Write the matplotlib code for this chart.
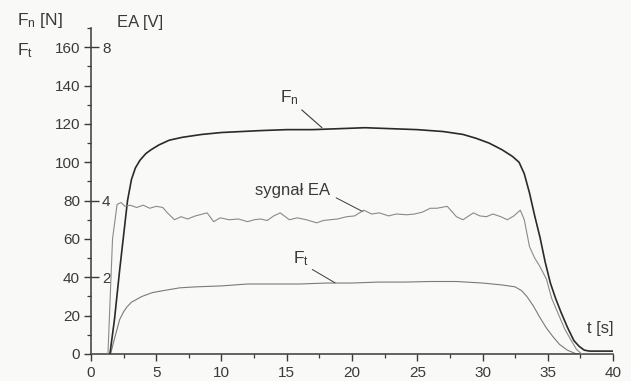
import matplotlib
matplotlib.use("Agg")
import matplotlib.pyplot as plt
from matplotlib.ticker import MultipleLocator, FixedLocator

plt.rcParams['font.family'] = ['Liberation Sans', 'DejaVu Sans']
plt.rcParams['mathtext.fontset'] = 'custom'
plt.rcParams['mathtext.rm'] = 'Liberation Sans'
plt.rcParams['mathtext.it'] = 'Liberation Sans:italic'

# ---- data ----
t_fn = [0, 1.45, 1.8, 2.2, 2.5, 2.8, 3.1, 3.4, 3.75, 4.2, 4.6, 5.2, 6, 7, 8.5, 10, 11.5, 13, 15, 17,
        19, 21, 23, 25, 27, 28.5, 29.5, 30.5, 31.5, 32.3, 32.8, 33.2, 33.6, 34.0, 34.4, 34.8, 35.2,
        35.6, 36.0, 36.5, 37.0, 37.4, 37.8, 38.2, 40]
fn = [0, 0, 18, 44, 62, 80, 91, 97, 101, 104.5, 106.5, 109, 111.5, 113, 114.5, 115.5, 116, 116.5,
      117, 117, 117.5, 118, 117.5, 117, 116, 114.5, 112.5, 110, 106.5, 103, 100, 94, 84, 72, 61,
      48, 37, 29, 22, 14, 7, 4, 2, 1.5, 1.5]

t_ft = [0, 1.5, 1.8, 2.2, 2.5, 2.75, 3.1, 3.5, 3.9, 4.7, 5.5, 6.8, 8, 10, 12, 14, 16, 18, 20, 22,
        24, 26, 28, 30, 31.5, 32.5, 33.0, 33.4, 33.9, 34.4, 34.9, 35.4, 35.9, 36.5, 37.2, 40]
ft = [0, 0, 8, 18, 22, 24.5, 27, 28.5, 30, 32, 33, 34.5, 35, 35.5, 36.5, 36.5, 36.5, 37, 37, 37.5,
      37.5, 37.8, 37.8, 37, 36, 35, 33, 30, 25, 19, 13.5, 9, 5, 2, 0, 0]

t_ea = [0, 1.3, 1.65, 2.0, 2.3, 2.6, 3.0, 3.5, 4.0, 4.5, 5.0, 5.5, 5.8, 6.1, 6.4, 6.9, 7.4, 8.0,
        8.9, 9.4, 9.9, 10.6, 11.3, 12.0, 12.5, 13.0, 13.5, 14.0, 14.5, 15.2, 15.8, 16.5, 17.3,
        17.8, 18.3, 18.9, 19.6, 20.2, 20.9, 21.5, 22.1, 22.8, 23.4, 24.2, 24.8, 25.4, 26.0, 26.5,
        27.3, 28.0, 28.5, 29.3, 29.8, 30.3, 30.8, 31.4, 31.9, 32.4, 32.9, 33.2, 33.6, 34.0, 34.4,
        34.9, 35.3, 35.8, 36.3, 36.8, 37.2, 37.6, 40]
ea = [0, 0, 3.0, 3.9, 3.95, 3.85, 3.88, 3.82, 3.88, 3.8, 3.85, 3.82, 3.7, 3.6, 3.5, 3.58, 3.52,
      3.6, 3.68, 3.45, 3.55, 3.5, 3.52, 3.45, 3.5, 3.52, 3.48, 3.6, 3.68, 3.5, 3.55, 3.5, 3.42,
      3.48, 3.5, 3.52, 3.58, 3.6, 3.75, 3.65, 3.68, 3.6, 3.65, 3.63, 3.65, 3.7, 3.8, 3.8, 3.85,
      3.58, 3.5, 3.68, 3.6, 3.58, 3.65, 3.58, 3.5, 3.6, 3.75, 3.5, 2.8, 2.5, 2.28, 1.95, 1.45,
      1.05, 0.65, 0.35, 0.12, 0, 0]

x_ticks = [0, 5, 10, 15, 20, 25, 30, 35, 40]
f_ticks = [0, 20, 40, 60, 80, 100, 120, 140, 160]
ea_ticks = [2, 4, 8]

ink = '#3a3a3a'
bg = '#f9f9f7'

fig = plt.figure(figsize=(6.31, 3.81), dpi=100, facecolor=bg)
ax = fig.add_axes([0.1442, 0.0709, 0.8273, 0.8556])
ax.set_facecolor('none')
ax.set_xlim(0, 40)
ax.set_ylim(0, 170)

for s in ('top', 'right'):
    ax.spines[s].set_visible(False)
for s in ('left', 'bottom'):
    ax.spines[s].set_color(ink)
    ax.spines[s].set_linewidth(1.1)

ax.xaxis.set_major_locator(FixedLocator(x_ticks))
ax.xaxis.set_minor_locator(MultipleLocator(2.5))
ax.yaxis.set_major_locator(FixedLocator(f_ticks))
ax.yaxis.set_minor_locator(MultipleLocator(10))
ax.tick_params(axis='both', which='major', direction='out', length=5, width=1.0,
               color=ink, labelcolor=ink, labelsize=11)
ax.tick_params(axis='both', which='minor', direction='out', length=3, width=0.9, color=ink)
ax.tick_params(axis='x', which='major', pad=4)
ax.tick_params(axis='y', which='major', pad=3)

ax.plot(t_ft, ft, color='#7a7a7a', lw=0.8)
ax.plot(t_fn, fn, color='#2a2a2a', lw=1.2)

ax2 = ax.twinx()
ax2.set_ylim(0, 8.5)
ax2.set_facecolor('none')
for s in ax2.spines.values():
    s.set_visible(False)
ax2.yaxis.tick_left()
ax2.yaxis.set_major_locator(FixedLocator(ea_ticks))
ax2.tick_params(axis='y', which='major', direction='in', length=6, width=1.0,
                color=ink, labelcolor=ink, labelsize=11, pad=-8)
ax2.tick_params(axis='y', which='minor', left=False, right=False)
plt.setp(ax2.get_yticklabels(), ha='left')
ax2.plot(t_ea, ea, color='#8a8a8a', lw=0.8)

# annotations
ax.annotate(r'F$_{\rm n}$', xy=(17.7, 118), xytext=(14.5, 131), textcoords='data',
            fontsize=12.5, color=ink, va='baseline', ha='left',
            arrowprops=dict(arrowstyle='-', color=ink, lw=0.8, shrinkA=0, shrinkB=0,
                            relpos=(1.0, 0.0)))
ax.annotate('sygnał EA', xy=(20.84, 74.2), xytext=(12.57, 83), textcoords='data',
            fontsize=12, color=ink, va='baseline', ha='left',
            arrowprops=dict(arrowstyle='-', color=ink, lw=0.7, shrinkA=0, shrinkB=0,
                            relpos=(1.08, 0.0)))
ax.annotate(r'F$_{\rm t}$', xy=(18.7, 37.1), xytext=(15.48, 47.5), textcoords='data',
            fontsize=12.5, color=ink, va='baseline', ha='left',
            arrowprops=dict(arrowstyle='-', color=ink, lw=0.7, shrinkA=0, shrinkB=0,
                            relpos=(1.2, -0.1)))

fig.text(0.027, 0.934, r'F$_{\rm n}$ [N]', fontsize=12.5, color=ink, va='baseline', ha='left')
fig.text(0.027, 0.856, r'F$_{\rm t}$', fontsize=12.5, color=ink, va='baseline', ha='left')
fig.text(0.185, 0.929, 'EA [V]', fontsize=12, color=ink, va='baseline', ha='left')
fig.text(0.930, 0.126, 't [s]', fontsize=12, color=ink, va='baseline', ha='left')

fig.savefig('out.png', dpi=100, facecolor=bg)
